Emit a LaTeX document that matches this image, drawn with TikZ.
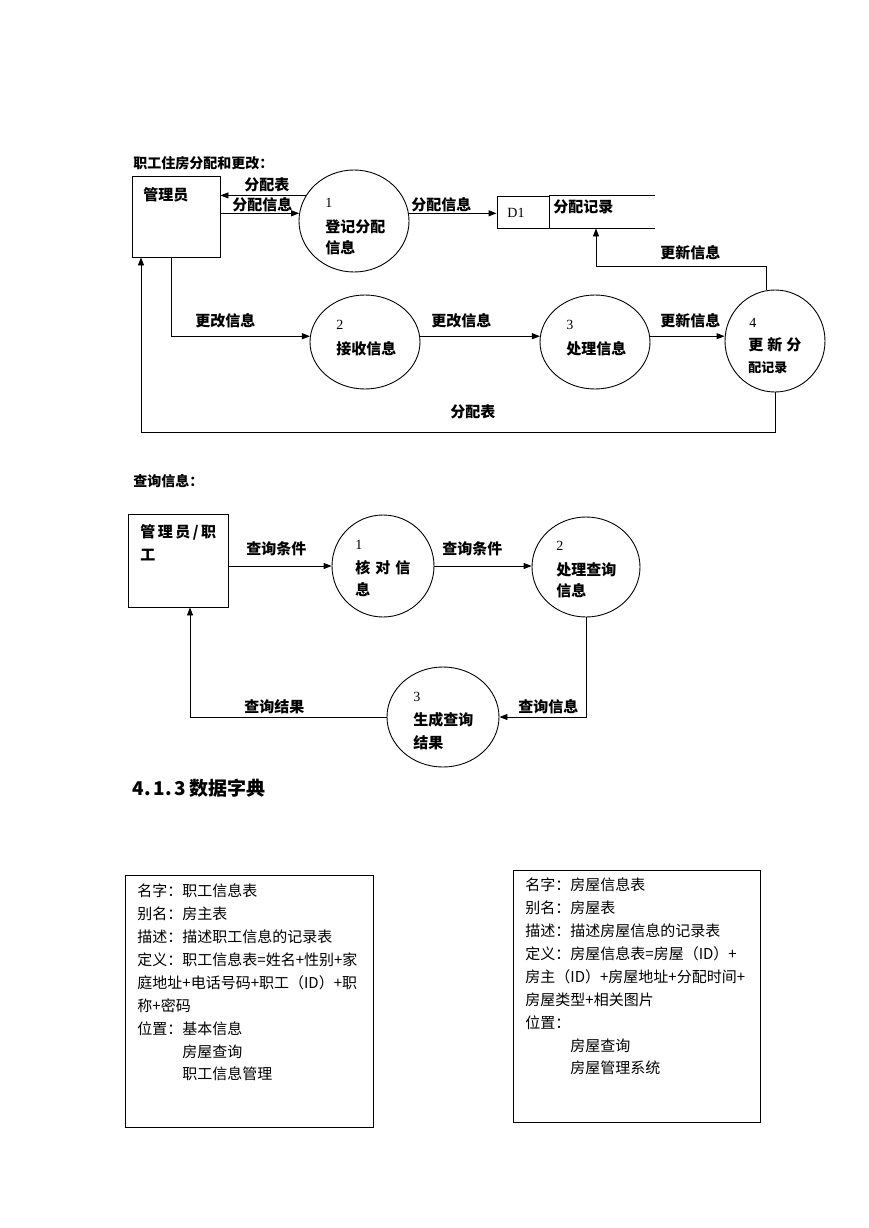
\documentclass[tikz,border=0pt]{standalone}
\usepackage{fontspec}
\setmainfont{Liberation Serif}
\newfontfamily\cjk{Noto Sans CJK SC}
\usetikzlibrary{arrows.meta,shapes.geometric}
\begin{document}
\begin{tikzpicture}[x=1pt,y=-1pt, line width=0.9pt,
  arr/.style={-{Triangle[length=8pt,width=6pt]}},
  lbl/.style={font=\cjk\bfseries\fontsize{15}{18}\selectfont, anchor=west, inner sep=0pt},
  ttl/.style={font=\cjk\bfseries\fontsize{14}{17}\selectfont, anchor=west, inner sep=0pt},
  sml/.style={font=\cjk\bfseries\fontsize{13}{16}\selectfont, anchor=west, inner sep=0pt},
  num/.style={font=\fontsize{14}{16}\selectfont, anchor=west, inner sep=0pt},
  proc/.style={draw, ellipse, inner sep=0pt},
  ent/.style={draw, rectangle, inner sep=0pt},
  dict/.style={font=\cjk\fontsize{15}{22.9}\selectfont, anchor=north west, align=left, inner sep=0pt}]
\useasboundingbox (0,0) rectangle (869,1228);
\fill[white] (0,0) rectangle (869,1228);

% ---------- Part 1 ----------
\node[ttl] (t1) at (133,163) {职工住房分配和更改：};

\node[ent, minimum width=88, minimum height=81] (m) at (176,216.5) {};
\node[lbl] (mt) at (143,195) {管理员};

\node[proc, minimum width=110, minimum height=102] (c1) at (354,221) {};
\node[num] (c1n) at (325,203) {1};
\node[lbl] (c1a) at (325,227) {登记分配};
\node[lbl] (c1b) at (325,248) {信息};

\node[ent, minimum width=52, minimum height=32] (d1) at (523,212) {};
\node[num] (d1t) at (507,213) {D1};
\node[inner sep=0pt, minimum width=94, minimum height=32] (ds) at (596,212) {};
\draw (d1.north east) -- ++(106,0);
\draw (d1.south east) -- ++(106,0);
\node[lbl] (dst) at (553,207) {分配记录};

\node[proc, minimum width=110, minimum height=94] (c2) at (365,342) {};
\node[num] (c2n) at (336,325) {2};
\node[lbl] (c2a) at (336,349) {接收信息};

\node[proc, minimum width=110, minimum height=94] (c3) at (595,342) {};
\node[num] (c3n) at (566,325) {3};
\node[lbl] (c3a) at (566,349) {处理信息};

\node[proc, minimum width=100, minimum height=102] (c4) at (775,341) {};
\node[num] (c4n) at (749,323) {4};
\node[lbl] (c4a) at (748,345) {更\hspace{4pt}新\hspace{4pt}分};
\node[sml] (c4b) at (748,368) {配记录};

\draw[arr] (c1.152) -- (c1.152 -| m.east);
\node[lbl] (l1) at (244,185) {分配表};
\draw[arr] (m.east |- c1.172) -- (c1.172);
\node[lbl] (l2) at (232,205) {分配信息};
\draw[arr] (c1.8) -- (c1.8 -| d1.west);
\node[lbl] (l3) at (411,205) {分配信息};

\draw[arr] ([xshift=-5pt]m.south) |- (c2.174);
\node[lbl] (l4) at (195,321) {更改信息};
\draw[arr] (c2.6) -- (c3.174);
\node[lbl] (l5) at (431,321) {更改信息};
\draw[arr] (c3.6) -- (c3.6 -| c4.west);
\node[lbl] (l6) at (660,321) {更新信息};

\draw[arr] (c4.100) -- ++(0,-24) -| (ds.south);
\node[lbl] (l7) at (660,253) {更新信息};

\draw[arr] (c4.south) -- ++(0,40) -| ([xshift=-35pt]m.south);
\node[lbl] (l8) at (450,412) {分配表};

% ---------- Part 2 ----------
\node[ttl] (t2) at (133,481) {查询信息：};

\node[ent, minimum width=100, minimum height=93] (n) at (178,560.5) {};
\node[lbl] (nt1) at (140,532) {管\hspace{2.5pt}理\hspace{2.5pt}员\hspace{2.5pt}/\hspace{2.5pt}职};
\node[lbl] (nt2) at (140,555) {工};

\node[proc, minimum width=102, minimum height=102] (q1) at (383,566) {};
\node[num] (q1n) at (355,545) {1};
\node[lbl] (q1a) at (355,568) {核\hspace{5pt}对\hspace{5pt}信};
\node[lbl] (q1b) at (355,590) {息};

\node[proc, minimum width=108, minimum height=100] (q2) at (586,567) {};
\node[num] (q2n) at (556,546) {2};
\node[lbl] (q2a) at (556,570) {处理查询};
\node[lbl] (q2b) at (556,591) {信息};

\node[proc, minimum width=112, minimum height=100] (q3) at (443,717) {};
\node[num] (q3n) at (413,697) {3};
\node[lbl] (q3a) at (413,720) {生成查询};
\node[lbl] (q3b) at (413,743) {结果};

\draw[arr] (n.east |- q1.west) -- (q1.west);
\node[lbl] (k1) at (246,549) {查询条件};
\draw[arr] (q1.east) -- (q1.east -| q2.west);
\node[lbl] (k2) at (442,549) {查询条件};
\draw[arr] (q2.south) |- (q3.east);
\node[lbl] (k3) at (518,707) {查询信息};
\draw[arr] (q3.west) -| ([xshift=12pt]n.south);
\node[lbl] (k4) at (244,707) {查询结果};

% ---------- Heading ----------
\node[font=\cjk\bfseries\fontsize{19}{22}\selectfont, anchor=west, inner sep=0pt] (h) at (132,788) {4.\hspace{3pt}1.\hspace{3pt}3\hspace{3pt}数据字典};

% ---------- Dictionary boxes ----------
\node[ent, minimum width=248, minimum height=252] (b1) at (249,1001) {};
\node[dict] (b1t) at (137,883.5) {名字：职工信息表\\
别名：房主表\\
描述：描述职工信息的记录表\\
定义：职工信息表=姓名+性别+家\\
庭地址+电话号码+职工（ID）+职\\
称+密码\\
位置：基本信息\\
\hspace*{3em}房屋查询\\
\hspace*{3em}职工信息管理};

\node[ent, minimum width=247, minimum height=252] (b2) at (636.5,996) {};
\node[dict] (b2t) at (525,877.5) {名字：房屋信息表\\
别名：房屋表\\
描述：描述房屋信息的记录表\\
定义：房屋信息表=房屋（ID）+\\
房主（ID）+房屋地址+分配时间+\\
房屋类型+相关图片\\
位置：\\
\hspace*{3em}房屋查询\\
\hspace*{3em}房屋管理系统};
\end{tikzpicture}
\end{document}
